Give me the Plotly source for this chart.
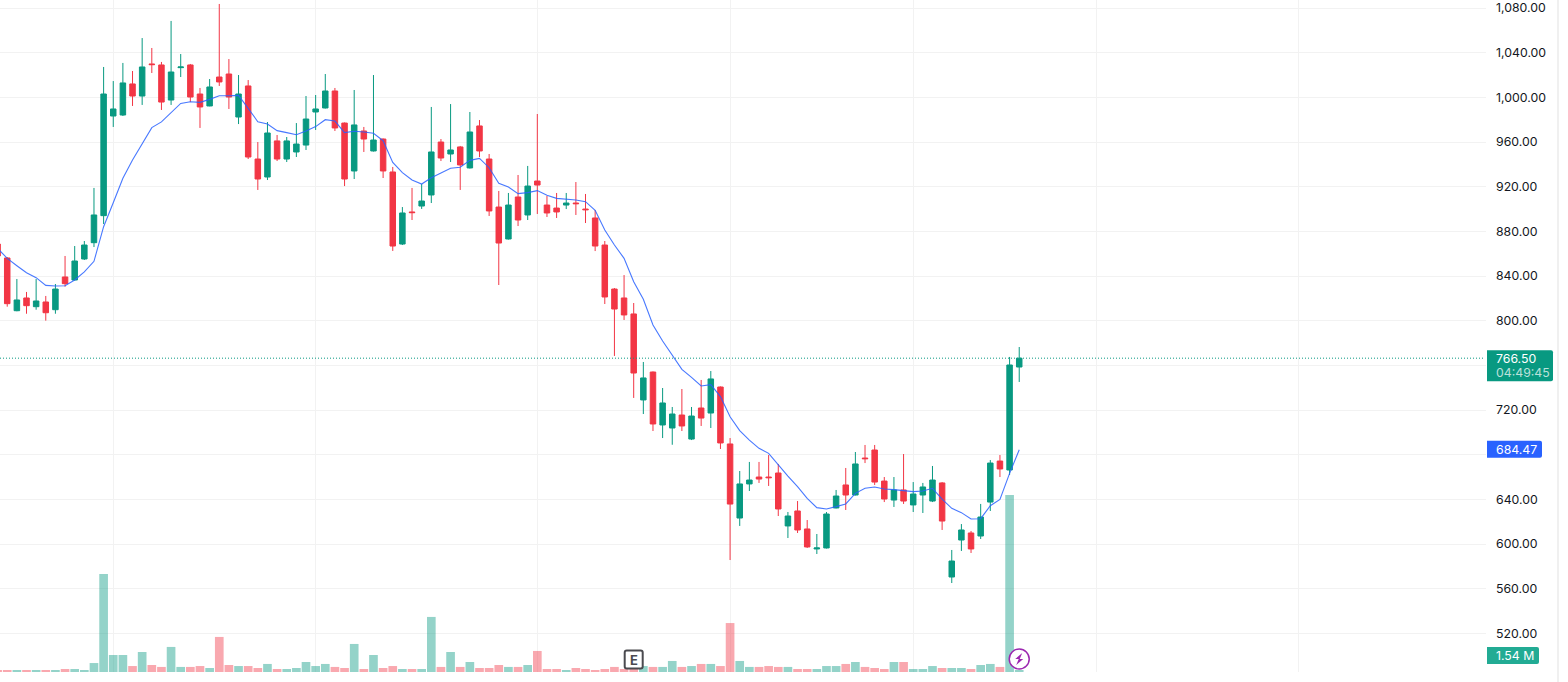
import plotly.graph_objects as go

# candle index -1 is the one cut off by the left edge
x_index = list(range(-1, 106))

opens = [868.7, 856.2, 809.0, 820.4, 812.6, 816.8, 809.9, 839.2, 836.5, 855.3, 869.9, 894.1, 983.3, 984.2, 1012.0, 1001.2,
         1029.9, 1029.0, 997.6, 1026.6, 1029.0, 1003.0, 992.3, 1018.2, 1020.9, 982.4, 1010.2, 944.8, 928.7, 961.0, 944.8,
         951.1, 957.3, 986.9, 990.5, 1005.7, 977.0, 934.1, 969.9, 952.0, 962.7, 933.2, 868.7, 897.4, 902.7, 912.6, 960.0,
         949.3, 955.6, 936.8, 974.4, 944.8, 901.8, 873.2, 910.8, 894.7, 925.1, 903.6, 900.9, 903.6, 905.4, 900.0, 892.0,
         867.8, 828.4, 820.4, 806.1, 729.1, 754.1, 706.7, 704.0, 715.6, 694.1, 721.9, 717.4, 740.7, 689.7, 623.4, 653.9,
         660.1, 660.1, 663.7, 616.3, 629.7, 613.6, 595.7, 596.6, 632.4, 653.0, 644.0, 677.1, 684.3, 656.5, 639.5, 648.5,
         635.1, 644.0, 638.6, 654.8, 570.6, 603.7, 610.0, 607.3, 637.7, 674.4, 666.4, 758.6]
highs = [870.0, 857.0, 837.4, 825.8, 837.4, 822.2, 832.9, 858.0, 866.9, 871.4, 918.9, 1027.2, 1014.6, 1030.8, 1023.6, 1053.1,
         1044.2, 1031.7, 1068.4, 1038.8, 1029.9, 1008.4, 1016.4, 1083.6, 1034.3, 1020.0, 1015.5, 960.0, 977.9, 966.3, 964.5,
         977.0, 1001.2, 1002.1, 1020.9, 1008.4, 977.5, 1006.6, 973.5, 1020.0, 963.2, 937.7, 901.8, 918.9, 922.4, 991.4, 962.7,
         994.0, 956.5, 986.9, 979.7, 949.3, 916.2, 914.4, 930.5, 938.6, 985.1, 911.7, 914.4, 914.4, 924.2, 913.5, 899.1,
         871.4, 829.3, 840.9, 815.9, 763.1, 754.6, 739.8, 722.8, 738.9, 722.8, 747.0, 755.0, 741.2, 695.0, 665.5, 673.6,
         673.6, 679.8, 671.8, 628.8, 638.6, 621.6, 609.1, 628.8, 648.5, 668.2, 682.5, 688.8, 688.8, 660.1, 660.1, 680.7,
         655.6, 654.8, 670.0, 655.6, 594.8, 618.0, 611.8, 636.0, 675.3, 679.8, 767.6, 776.5]
lows = [856.0, 812.6, 808.5, 806.3, 809.9, 800.1, 806.3, 830.5, 836.0, 854.4, 866.0, 886.6, 973.5, 983.3, 992.3, 993.2,
        1021.8, 988.7, 993.2, 1018.2, 995.8, 972.6, 992.0, 1010.2, 989.6, 976.1, 944.8, 917.1, 926.0, 943.0, 942.1,
        946.6, 952.9, 970.8, 990.0, 969.9, 920.6, 926.9, 951.1, 951.5, 927.8, 862.5, 867.8, 890.2, 900.1, 905.4, 943.0,
        942.1, 917.1, 936.3, 946.6, 893.8, 832.0, 872.7, 884.8, 890.2, 895.6, 892.9, 892.0, 900.0, 894.7, 887.5, 862.4,
        815.0, 768.5, 800.7, 730.9, 716.5, 701.3, 695.0, 689.0, 701.3, 693.2, 705.8, 704.0, 685.2, 585.8, 616.3, 647.6,
        654.8, 652.1, 625.2, 605.5, 610.0, 596.6, 591.2, 596.1, 632.0, 630.6, 643.6, 672.6, 653.0, 637.7, 633.3, 636.0,
        628.8, 627.9, 637.7, 612.7, 565.2, 593.9, 592.1, 604.6, 629.7, 660.1, 661.9, 745.2]
closes = [858.0, 815.3, 818.6, 813.5, 817.7, 807.2, 828.4, 833.2, 853.5, 867.8, 894.7, 1003.0, 989.6, 1012.9, 1001.2, 1027.2,
          1029.3, 995.8, 1022.7, 1027.2, 1000.3, 991.4, 1009.3, 1013.8, 1000.3, 1003.0, 946.6, 926.9, 968.1, 944.8, 961.0,
          958.2, 980.6, 989.6, 1005.7, 972.6, 926.9, 975.3, 962.7, 961.8, 934.1, 866.9, 896.5, 896.8, 907.2, 951.1, 945.7,
          952.9, 939.5, 969.0, 952.0, 898.3, 869.6, 903.6, 890.2, 920.6, 921.5, 896.5, 897.4, 905.4, 904.8, 899.4, 866.9,
          821.3, 810.5, 805.2, 753.2, 748.8, 707.6, 726.4, 716.5, 705.8, 714.7, 712.9, 747.9, 690.6, 635.9, 653.9, 657.4,
          658.3, 659.5, 631.5, 625.2, 612.7, 597.5, 596.6, 627.0, 643.1, 644.0, 671.8, 676.5, 655.6, 640.4, 648.5, 638.6,
          644.9, 651.2, 657.4, 620.7, 584.9, 612.7, 595.7, 624.3, 672.6, 667.3, 760.4, 766.5]
ma_values = [864.8, 855.9, 849.3, 843.0, 838.6, 831.7, 831.1, 831.4, 836.5, 843.7, 853.2, 884.2, 905.7, 927.5, 943.9, 958.9,
             972.9, 978.0, 986.3, 994.6, 996.1, 995.5, 998.2, 1001.5, 1001.5, 1001.8, 990.2, 978.2, 976.1, 970.2, 968.4,
             966.6, 969.9, 973.8, 980.0, 978.8, 968.4, 969.6, 969.0, 967.8, 961.2, 941.8, 932.6, 926.0, 922.4, 928.1, 932.3,
             936.5, 937.4, 943.6, 945.4, 937.0, 923.0, 919.8, 913.8, 914.7, 916.5, 912.3, 909.6, 909.0, 908.1, 906.6, 898.9,
             881.2, 867.8, 855.9, 835.0, 819.2, 796.2, 781.9, 769.3, 756.5, 749.3, 741.6, 742.8, 732.1, 714.1, 701.6, 693.2,
             685.8, 681.3, 670.9, 661.0, 651.5, 641.0, 632.7, 631.5, 633.6, 636.0, 645.5, 650.0, 651.2, 649.4, 648.8, 647.6,
             647.0, 647.6, 650.0, 640.4, 632.1, 628.2, 622.5, 622.8, 634.4, 640.1, 663.4, 684.47]
# volume in millions
volumes = [1.54, 1.54, 1.54, 1.54, 1.54, 1.54, 1.54, 2.3, 2.3, 1.54, 6.9, 75.5, 13.1, 13.1, 4.6, 15.4,
           5.4, 3.9, 19.3, 3.9, 3.9, 4.6, 3.1, 27.0, 5.4, 4.6, 4.6, 3.1, 6.2, 2.3, 2.3,
           3.1, 7.7, 4.6, 6.2, 3.9, 3.1, 21.6, 2.3, 13.1, 3.1, 4.6, 2.3, 2.3, 2.3, 42.4, 3.9,
           15.4, 3.9, 7.7, 3.1, 3.1, 5.4, 3.9, 3.9, 5.4, 16.2, 2.3, 2.3, 1.54, 3.1, 2.3, 1.54,
           2.3, 3.9, 2.3, 2.3, 4.6, 3.9, 3.9, 8.5, 3.9, 4.6, 6.2, 6.2, 4.6, 37.7, 8.5, 3.9,
           3.9, 4.6, 3.9, 3.9, 2.3, 2.3, 2.3, 4.6, 4.6, 6.2, 7.7, 3.9, 3.1, 2.3, 7.7, 7.7,
           2.3, 2.3, 4.6, 3.1, 3.1, 3.1, 2.3, 5.4, 6.2, 3.9, 136.3, 1.54]

grid_positions = [11, 32, 55, 75, 94, 113, 134]
price_ticks = list(range(520, 1081, 40))
# these tick labels sit behind the badges, so only their grid lines show
hidden_ticks = [680, 760]
last_price = 766.50
countdown = "04:49:45"
ma_last = 684.47
volume_label = "1.54 M"
earnings_index = 65

GREEN = "#089981"
RED = "#F23645"
BLUE = "#2962FF"
GRID = "#F2F2F2"
TEXT = "#131722"
FONT = "Inter, 'Liberation Sans', sans-serif"
FONT_SIZE = 12.3
WIDTH, HEIGHT = 1568, 682
PLOT_RIGHT = 1486 / WIDTH
PLOT_BOTTOM = 10 / HEIGHT


def px_y(value):
    return 1 - value / HEIGHT


def badge(y_value, yref, left, right, top, bottom, color):
    # rounded label on the price scale, sized in pixels around its anchor
    r = 2
    path = (f"M {left},{top} L {right - r},{top} Q {right},{top} {right},{top - r} "
            f"L {right},{bottom + r} Q {right},{bottom} {right - r},{bottom} L {left},{bottom} Z")
    return dict(type="path", path=path, xref="paper", yref=yref, xsizemode="pixel", ysizemode="pixel",
                xanchor=PLOT_RIGHT, yanchor=y_value, fillcolor=color, line_width=0, layer="above")


def label(text, y_value, yref, color="white", shift=0):
    return dict(text=text, x=1494 / WIDTH, y=y_value, xref="paper", yref=yref, xanchor="left", yanchor="middle",
                showarrow=False, yshift=shift, font=dict(family=FONT, size=FONT_SIZE, color=color))


bar_colors = ["rgba(8,153,129,0.43)" if c >= o else "rgba(242,54,69,0.43)" for o, c in zip(opens, closes)]
price_labels = ["" if p in hidden_ticks else f"{p:,.2f}" for p in price_ticks]

fig = go.Figure()
fig.add_trace(go.Candlestick(
    x=x_index, open=opens, high=highs, low=lows, close=closes, whiskerwidth=0,
    increasing=dict(line=dict(color=GREEN, width=1), fillcolor=GREEN),
    decreasing=dict(line=dict(color=RED, width=1), fillcolor=RED),
    showlegend=False,
))
fig.add_trace(go.Scatter(x=x_index, y=ma_values, mode="lines", line=dict(color=BLUE, width=1.1), opacity=0.85,
                         showlegend=False))
fig.add_trace(go.Bar(x=x_index, y=volumes, yaxis="y2", marker=dict(color=bar_colors, line_width=0), width=0.9,
                     showlegend=False))

fig.update_layout(
    width=WIDTH, height=HEIGHT,
    margin=dict(l=0, r=0, t=0, b=0),
    paper_bgcolor="white", plot_bgcolor="white",
    showlegend=False,
    boxgap=0.43, boxgroupgap=0,
    xaxis=dict(domain=[0, PLOT_RIGHT], range=[-0.75, 153.43], rangeslider_visible=False,
               tickmode="array", tickvals=grid_positions, showticklabels=False, ticks="",
               showgrid=True, gridcolor=GRID, gridwidth=1, zeroline=False, showline=False),
    yaxis=dict(domain=[PLOT_BOTTOM, 1], range=[485.55, 1087.16], side="right",
               tickmode="array", tickvals=price_ticks, ticktext=price_labels,
               ticks="", ticklabelstandoff=9,
               tickfont=dict(family=FONT, size=FONT_SIZE, color=TEXT),
               showgrid=True, gridcolor=GRID, gridwidth=1, zeroline=False, showline=False),
    yaxis2=dict(domain=[PLOT_BOTTOM, 1], overlaying="y", range=[0, 517.4], visible=False),
)

shapes = [
    # last price line
    dict(type="line", xref="paper", yref="y", x0=0, x1=1484 / WIDTH, y0=last_price, y1=last_price,
         line=dict(color=GREEN, width=1, dash="1px,2px"), layer="above"),
    # thin strip at the right edge of the page
    dict(type="rect", xref="paper", yref="paper", x0=1557 / WIDTH, x1=1559 / WIDTH, y0=0, y1=1,
         fillcolor="#F0F0F0", line_width=0, layer="below"),
    badge(last_price, "y", 1, 67, 8, -23, GREEN),
    badge(ma_last, "y", 1, 56, 9, -8, BLUE),
    badge(px_y(655.5), "paper", 1, 53, 8.5, -8.5, "#22AB94"),
    # earnings marker
    dict(type="path", xref="x", yref="paper", xsizemode="pixel", ysizemode="pixel", xanchor=earnings_index,
         yanchor=px_y(659.5),
         path="M -7,9 L 7,9 Q 9,9 9,7 L 9,-7 Q 9,-9 7,-9 L -7,-9 Q -9,-9 -9,-7 L -9,7 Q -9,9 -7,9 Z",
         fillcolor="white", line=dict(color="#4A4A4F", width=2), layer="above"),
    # lightning marker
    dict(type="circle", xref="x", yref="paper", xsizemode="pixel", ysizemode="pixel", xanchor=105,
         yanchor=px_y(659), x0=-10, x1=10, y0=-10, y1=10, fillcolor="white",
         line=dict(color="#9C27B0", width=1.5), layer="above"),
    dict(type="path", xref="x", yref="paper", xsizemode="pixel", ysizemode="pixel", xanchor=105,
         yanchor=px_y(659), path="M 3,6 L -4,0 L -0.5,0 L -3,-6 L 4,0 L 0.5,0 Z", fillcolor="#9C27B0",
         line_width=0, layer="above"),
]

annotations = [
    label(f"{last_price:.2f}", last_price, "y"),
    label(countdown, last_price, "y", color="rgba(255,255,255,0.72)", shift=-14),
    label(f"{ma_last:.2f}", ma_last, "y"),
    label(volume_label, px_y(655.5), "paper"),
    dict(text="<b>E</b>", x=earnings_index, y=px_y(659.5), xref="x", yref="paper", showarrow=False,
         xanchor="center", yanchor="middle", font=dict(family=FONT, size=13, color="#4A4A4F")),
]

fig.update_layout(shapes=shapes, annotations=annotations)

fig.write_html("out.html", config=dict(displayModeBar=False), post_script="document.body.style.margin='0';")
